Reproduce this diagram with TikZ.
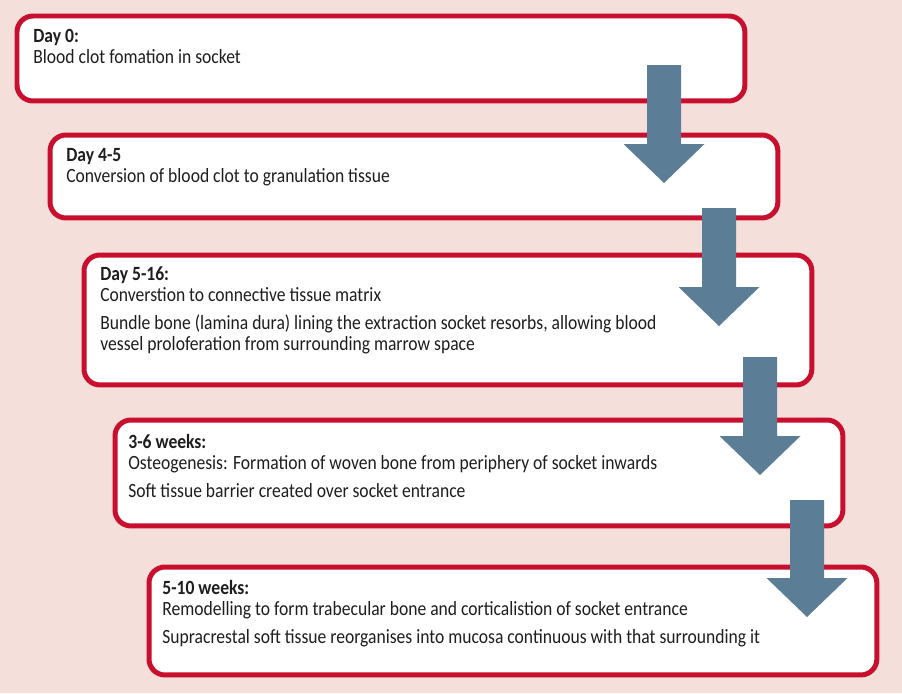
\documentclass[tikz,border=0pt]{standalone}
\usepackage{fontspec}
\setmainfont{Carlito}[FakeStretch=0.87]
\usepackage{tikz}
\usetikzlibrary{positioning}
\definecolor{bg_pink}{RGB}{244,223,219}
\definecolor{box_red}{RGB}{200,16,46}
\definecolor{arrow_blue}{RGB}{91,126,150}
\definecolor{txt_dark}{RGB}{30,30,30}

\tikzset{
  stagebox/.style={draw=box_red, line width=0.1cm, fill=white, rounded corners=0.32cm,
    rectangle, anchor=north west, minimum width=14.56cm, inner sep=0pt},
  stagetext/.style={anchor=north west, align=left, inner sep=0pt, text=txt_dark,
    font=\fontsize{11.5}{11.95}\selectfont},
}
% block arrow: centre x, top y, tip y (pixel units)
\newcommand\stagearrow[3]{%
  \fill[arrow_blue] (#1-17,#2) -- (#1+17,#2) -- (#1+17,#3-39) -- (#1+40.5,#3-39)
    -- (#1,#3) -- (#1-40.5,#3-39) -- (#1-17,#3-39) -- cycle;}

\begin{document}
\begin{tikzpicture}[x=0.02cm, y=-0.02cm]
  \fill[bg_pink] (0,0) rectangle (902,693);
  \useasboundingbox (0,0) rectangle (902,693);

  % stage boxes
  \node[stagebox, minimum height=1.70cm] (b0) at (14.5,13.5) {};
  \node[stagebox, minimum height=1.66cm] (b1) at (47.5,132.5) {};
  \node[stagebox, minimum height=2.60cm] (b2) at (81.5,252.5) {};
  \node[stagebox, minimum height=2.12cm] (b3) at (112.5,417.5) {};
  \node[stagebox, minimum height=2.16cm] (b4) at (146.5,564.5) {};

  % texts
  \node[stagetext] (t0) at (33,29) {\textbf{Day 0:}\\
    Blood clot fomation in socket};
  \node[stagetext] (t1) at (66,148) {\textbf{Day 4-5}\\
    Conversion of blood clot to granulation tissue};
  \node[stagetext] (t2) at (100,266) {\textbf{Day 5-16:}\\
    Converstion to connective tissue matrix\\[4pt]
    Bundle bone (lamina dura) lining the extraction socket resorbs, allowing blood\\
    vessel proloferation from surrounding marrow space};
  \node[stagetext] (t3) at (128,434) {\textbf{3-6 weeks:}\\
    Osteogenesis: Formation of woven bone from periphery of socket inwards\\[4pt]
    Soft tissue barrier created over socket entrance};
  \node[stagetext] (t4) at (162,580) {\textbf{5-10 weeks:}\\
    Remodelling to form trabecular bone and corticalistion of socket entrance\\[4pt]
    Supracrestal soft tissue reorganises into mucosa continuous with that surrounding it};

  % arrows between stages
  \stagearrow{664}{65}{183}
  \stagearrow{719}{208}{326}
  \stagearrow{760}{357}{475}
  \stagearrow{807}{500}{617}
\end{tikzpicture}
\end{document}
